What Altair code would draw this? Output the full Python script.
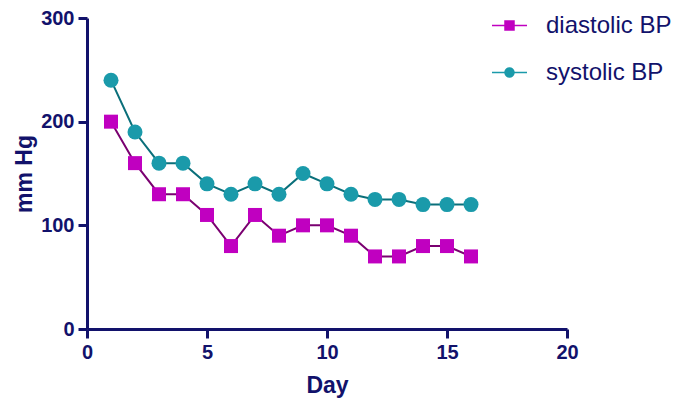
import altair as alt
import pandas as pd

days = list(range(1, 17))
diastolic = [200, 160, 130, 130, 110, 80, 110, 90, 100, 100, 90, 70, 70, 80, 80, 70]
systolic = [240, 190, 160, 160, 140, 130, 140, 130, 150, 140, 130, 125, 125, 120, 120, 120]
series_names = ["diastolic BP", "systolic BP"]
marker_colors = ["#C000C0", "#1A9AAA"]
line_colors = ["#7A0070", "#0A6F7A"]

rows = []
for d, v in zip(days, diastolic):
    rows.append({"Day": d, "value": v, "series": series_names[0]})
for d, v in zip(days, systolic):
    rows.append({"Day": d, "value": v, "series": series_names[1]})
df = pd.DataFrame(rows)

NAVY = "#12126b"
FONT = "Liberation Sans"

sq_path = "M-1,-0.045H-0.3V-0.3H0.3V-0.045H1V0.045H0.3V0.3H-0.3V0.045H-1Z"
ci_path = ("M-1,-0.045H-0.297A0.3,0.3 0 0,1 0.297,-0.045H1V0.045H0.297"
           "A0.3,0.3 0 0,1 -0.297,0.045H-1Z")

x_enc = alt.X("Day:Q", scale=alt.Scale(domain=[0, 20], nice=False),
              axis=alt.Axis(values=[0, 5, 10, 15, 20], title="Day", grid=False))
y_enc = alt.Y("value:Q", scale=alt.Scale(domain=[0, 300], nice=False),
              axis=alt.Axis(values=[0, 100, 200, 300], title="mm Hg", grid=False))

lines = alt.Chart(df).mark_line(strokeWidth=2).encode(
    x=x_enc, y=y_enc,
    color=alt.Color("series:N", scale=alt.Scale(domain=series_names, range=line_colors), legend=None),
)

shape_expr = "datum.value == 'diastolic BP' ? '" + sq_path + "' : '" + ci_path + "'"

points = alt.Chart(df).mark_point(filled=True, opacity=1, strokeWidth=0).encode(
    x=x_enc, y=y_enc,
    color=alt.Color("series:N", scale=alt.Scale(domain=series_names, range=marker_colors),
                    legend=alt.Legend(
                        title=None, orient="none", legendX=405, legendY=-10,
                        symbolSize=1225, labelFontSize=24, labelFont=FONT,
                        labelColor=NAVY, labelOffset=19, rowPadding=17,
                        symbolStrokeWidth=0, symbolOpacity=1,
                        symbolType={"expr": shape_expr},
                    )),
    shape=alt.Shape("series:N", scale=alt.Scale(domain=series_names, range=["square", "circle"]), legend=None),
    size=alt.Size("series:N", scale=alt.Scale(domain=series_names, range=[196, 225]), legend=None),
)

chart = alt.layer(lines, points).resolve_scale(color="independent").properties(
    width=480, height=311,
    autosize=alt.AutoSizeParams(type="none"),
    padding={"left": 79, "top": 10, "right": 110, "bottom": 69},
).configure_view(stroke=None).configure_axis(
    domainColor=NAVY, domainWidth=3, tickColor=NAVY, tickWidth=3, tickSize=9,
    labelColor=NAVY, labelFont=FONT, labelFontSize=20, labelFontWeight="bold",
    labelPadding=4, labelFlush=False, titleColor=NAVY, titleFont=FONT, titleFontSize=23,
    titleFontWeight="bold",
).configure_axisX(titlePadding=12).configure_axisY(titlePadding=4)

chart.save("out.html", embed_options={"renderer": "svg", "actions": False})
